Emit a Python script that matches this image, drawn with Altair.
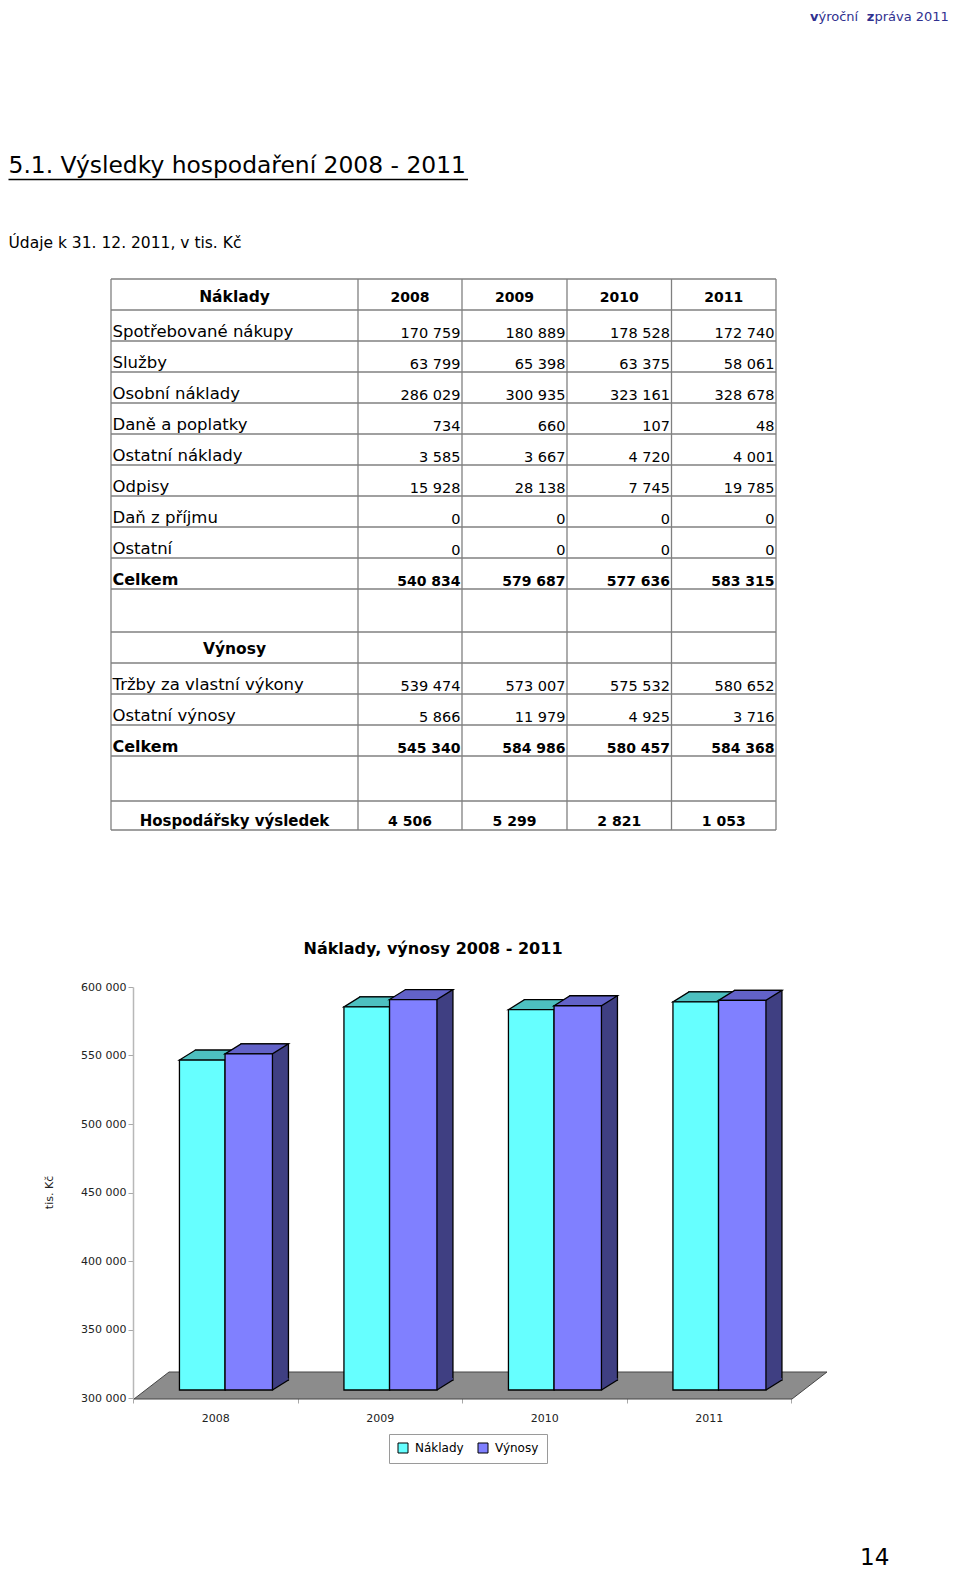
import altair as alt
import pandas as pd

# ---------------- data ----------------
years = ["2008", "2009", "2010", "2011"]
cost_labels = ["Spotřebované nákupy", "Služby", "Osobní náklady", "Daně a poplatky",
               "Ostatní náklady", "Odpisy", "Daň z příjmu", "Ostatní"]
cost_values = [
    [170759, 180889, 178528, 172740],
    [63799, 65398, 63375, 58061],
    [286029, 300935, 323161, 328678],
    [734, 660, 107, 48],
    [3585, 3667, 4720, 4001],
    [15928, 28138, 7745, 19785],
    [0, 0, 0, 0],
    [0, 0, 0, 0],
]
cost_total = [540834, 579687, 577636, 583315]
revenue_labels = ["Tržby za vlastní výkony", "Ostatní výnosy"]
revenue_values = [
    [539474, 573007, 575532, 580652],
    [5866, 11979, 4925, 3716],
]
revenue_total = [545340, 584986, 580457, 584368]
result_values = [4506, 5299, 2821, 1053]
series_names = ["Náklady", "Výnosy"]
y_ticks = [300000, 350000, 400000, 450000, 500000, 550000, 600000]

header_pieces = ["v", "ýroční", "z", "práva 2011"]
page_title = "5.1. Výsledky hospodaření 2008 - 2011"
page_subtitle = "Údaje k 31. 12. 2011, v tis. Kč"
cost_header = "Náklady"
revenue_header = "Výnosy"
total_label = "Celkem"
result_label = "Hospodářsky výsledek"
chart_title = "Náklady, výnosy 2008 - 2011"
y_axis_title = "tis. Kč"
page_number = "14"

# ---------------- layout / style ----------------
FONT = "DejaVu Sans"
OX, OY = 133, 987          # page position of the bar plot area
PW, PH = 658, 411
SVG_W, SVG_H = 944, 1566
Y_MIN, Y_MAX = 300000, 600000

TABLE_TOP = 279
ROW_H = [31] * 10 + [43, 31, 31, 31, 31, 45, 29]
COL_EDGES = [111, 358, 462, 567, 671.5, 776]
GRID_COLOR = "#808080"
HEADER_COLOR = "#30308f"

GEOM = {
    "Náklady": dict(x0=-35.8, w=45.6, front="#66FFFF", top="#4DC0C0", side="#2E8C8C"),
    "Výnosy": dict(x0=9.8, w=47.4, front="#8080FF", top="#6262C8", side="#3F3F82"),
}
DX, DY = 16, -10     # bar depth
LIFT = -8            # bars stand in the middle of the floor
FLOOR_DX, FLOOR_DY = 35, -27
EDGE_W = 1.3


def fmt(v):
    return f"{v:,}".replace(",", " ")


def PX(field):
    return alt.X(f"{field}:Q", scale=alt.Scale(domain=[OX, OX + PW], zero=False, nice=False), axis=None)


def PY(field):
    return alt.Y(f"{field}:Q", scale=alt.Scale(domain=[OY, OY + PH], reverse=True, zero=False, nice=False), axis=None)


def XB(axis=None):
    return alt.X("year:N", scale=alt.Scale(type="band", domain=years, paddingInner=0, paddingOuter=0), axis=axis)


def YV(field, axis=None):
    return alt.Y(f"{field}:Q", scale=alt.Scale(domain=[Y_MIN, Y_MAX], zero=False, nice=False), axis=axis)


STYLES = {
    "hdr_b": dict(align="left", fontWeight="bold", fontSize=13, color=HEADER_COLOR),
    "hdr_n": dict(align="left", fontWeight="normal", fontSize=13, color=HEADER_COLOR),
    "title": dict(align="left", fontWeight="normal", fontSize=23.4, color="black"),
    "subtitle": dict(align="left", fontWeight="normal", fontSize=15.5, color="black"),
    "lab": dict(align="left", fontWeight="normal", fontSize=16.5, color="black"),
    "lab_b": dict(align="left", fontWeight="bold", fontSize=16, color="black"),
    "lab_c": dict(align="center", fontWeight="bold", fontSize=15.5, color="black"),
    "res_lab": dict(align="center", fontWeight="bold", fontSize=15, color="black"),
    "num": dict(align="right", fontWeight="normal", fontSize=14.5, color="black"),
    "num_b": dict(align="right", fontWeight="bold", fontSize=14, color="black"),
    "num_c": dict(align="center", fontWeight="bold", fontSize=14, color="black"),
    "ctitle": dict(align="center", fontWeight="bold", fontSize=16, color="black"),
    "pageno": dict(align="left", fontWeight="normal", fontSize=23, color="black"),
}

records = []


def add(x, y, text, style):
    records.append(dict(x=x, y=y, text=text, style=style))


# page header
hdr_x = [810, 818.5, 866.8, 874.4]
for piece, x, st in zip(header_pieces, hdr_x, ["hdr_b", "hdr_n", "hdr_b", "hdr_n"]):
    add(x, 21, piece, st)
add(8.5, 173, page_title, "title")
add(8.5, 248, page_subtitle, "subtitle")
add(433, 954, chart_title, "ctitle")
add(860, 1565, page_number, "pageno")

# table rows
rows = [("header", cost_header, years)]
rows += [("item", l, v) for l, v in zip(cost_labels, cost_values)]
rows.append(("total", total_label, cost_total))
rows.append(("blank", "", None))
rows.append(("section", revenue_header, None))
rows += [("item", l, v) for l, v in zip(revenue_labels, revenue_values)]
rows.append(("total", total_label, revenue_total))
rows.append(("blank", "", None))
rows.append(("result", result_label, result_values))

edges = [TABLE_TOP]
for h in ROW_H:
    edges.append(edges[-1] + h)

col_centers = [(COL_EDGES[i] + COL_EDGES[i + 1]) / 2 for i in range(5)]
for (kind, label, vals), bottom in zip(rows, edges[1:]):
    if kind == "header":
        add(col_centers[0], bottom - 8, label, "lab_c")
        for j, v in enumerate(vals):
            add(col_centers[j + 1], bottom - 8, v, "num_c")
    elif kind == "item":
        add(COL_EDGES[0] + 1.5, bottom - 4.5, label, "lab")
        for j, v in enumerate(vals):
            add(COL_EDGES[j + 2] - 1.5, bottom - 3.5, fmt(v), "num")
    elif kind == "total":
        add(COL_EDGES[0] + 1.5, bottom - 4.5, label, "lab_b")
        for j, v in enumerate(vals):
            add(COL_EDGES[j + 2] - 1.5, bottom - 3.5, fmt(v), "num_b")
    elif kind == "section":
        add(col_centers[0], bottom - 9, label, "lab_c")
    elif kind == "result":
        add(col_centers[0], bottom - 4, label, "res_lab")
        for j, v in enumerate(vals):
            add(col_centers[j + 1], bottom - 4, fmt(v), "num_c")

text_df = pd.DataFrame(records)

layers = []

# table grid
hlines = pd.DataFrame({"x": COL_EDGES[0], "x2": COL_EDGES[-1], "y": edges})
vlines = pd.DataFrame({"x": COL_EDGES, "y": edges[0], "y2": edges[-1]})
layers.append(alt.Chart(hlines).mark_rule(color=GRID_COLOR, strokeWidth=1.3).encode(
    x=PX("x"), x2=alt.X2("x2"), y=PY("y")))
layers.append(alt.Chart(vlines).mark_rule(color=GRID_COLOR, strokeWidth=1.3).encode(
    x=PX("x"), y=PY("y"), y2=alt.Y2("y2")))
underline = pd.DataFrame({"x": [8.5], "x2": [468], "y": [179.5]})
layers.append(alt.Chart(underline).mark_rule(color="black", strokeWidth=1.3).encode(
    x=PX("x"), x2=alt.X2("x2"), y=PY("y")))

for st, spec in STYLES.items():
    sub = text_df[text_df["style"] == st]
    if len(sub) == 0:
        continue
    layers.append(alt.Chart(sub).mark_text(baseline="alphabetic", font=FONT, **spec).encode(
        x=PX("x"), y=PY("y"), text="text:N"))

# ---------------- 3D bar chart ----------------
bars = pd.DataFrame({
    "year": years * 2,
    "series": [s for s in series_names for _ in years],
    "value": cost_total + revenue_total,
    "base": Y_MIN,
})

floor_df = pd.DataFrame({"base": [Y_MIN]})
floor_path = f"M1,0 L{PW + 1},0 L{PW + 1 + FLOOR_DX},{FLOOR_DY} L{1 + FLOOR_DX},{FLOOR_DY} Z"
layers.append(alt.Chart(floor_df).mark_point(
    shape=floor_path, size=4, filled=True, fill="#8c8c8c", stroke="#454545",
    strokeWidth=1, opacity=1, yOffset=1).encode(x=alt.value(0), y=YV("base")))

color_scale = alt.Scale(domain=series_names, range=[GEOM[s]["front"] for s in series_names])
legend = alt.Legend(orient="none", legendX=256, legendY=447, direction="horizontal", title=None,
                    symbolType="square", symbolSize=100, symbolStrokeColor="black",
                    symbolStrokeWidth=1, labelFont=FONT, labelFontSize=12, labelColor="black",
                    labelOffset=6, columnPadding=12, padding=8, strokeColor="#9a9a9a",
                    fillColor="white")

y_axis = alt.Axis(orient="left", values=y_ticks, labelExpr="replace(format(datum.value, ','), ',', ' ')",
                  labelFont=FONT, labelFontSize=11, labelColor="#222", labelPadding=2,
                  tickSize=5, tickColor="#a8a8a8", domainColor="#b8b8b8", domainWidth=1.5,
                  grid=False, title=y_axis_title, titleFont=FONT, titleFontSize=11,
                  titleFontWeight="normal", titleColor="#222", titleAngle=270,
                  titleX=-84, titleY=205, titleAlign="center", titleBaseline="middle")
x_axis = alt.Axis(orient="bottom", labelFont=FONT, labelFontSize=11, labelColor="#222",
                  labelPadding=9, labelAngle=0, tickBand="extent", tickSize=5, tickColor="#a8a8a8",
                  domainColor="#a8a8a8", grid=False, title=None)

for s in series_names:
    g = GEOM[s]
    d = bars[bars["series"] == s]
    # back face (shows as the side face)
    layers.append(alt.Chart(d).mark_bar(
        width=g["w"], xOffset=g["x0"] + g["w"] / 2 + DX, yOffset=LIFT + DY, y2Offset=LIFT + DY,
        fill=g["side"], stroke="black", strokeWidth=EDGE_W, opacity=1).encode(
        x=XB(), y=YV("value"), y2=alt.Y2("base")))
    # lower part of the side face
    layers.append(alt.Chart(d).mark_point(
        shape=f"M0,0 L{DX},{DY} L{DX},{DY - 2} L0,{DY - 2} Z", size=4, filled=True,
        fill=g["side"], strokeWidth=0, opacity=1, xOffset=g["x0"] + g["w"], yOffset=LIFT).encode(
        x=XB(), y=YV("base")))
    layers.append(alt.Chart(d).mark_point(
        shape=f"M0,0 L{DX},{DY}", size=4, filled=False, stroke="black", strokeWidth=EDGE_W,
        opacity=1, xOffset=g["x0"] + g["w"], yOffset=LIFT).encode(x=XB(), y=YV("base")))
    # top face
    w = g["w"]
    layers.append(alt.Chart(d).mark_point(
        shape=f"M0,0 L{w},0 L{w + DX},{DY} L{DX},{DY} Z", size=4, filled=True,
        fill=g["top"], stroke="black", strokeWidth=EDGE_W, opacity=1,
        xOffset=g["x0"], yOffset=LIFT).encode(x=XB(), y=YV("value")))
    # front face
    first = s == series_names[0]
    layers.append(alt.Chart(d).mark_bar(
        width=g["w"], xOffset=g["x0"] + g["w"] / 2, yOffset=LIFT, y2Offset=LIFT,
        stroke="black", strokeWidth=EDGE_W, opacity=1).encode(
        x=XB(x_axis if first else None),
        y=YV("value", y_axis if first else None),
        y2=alt.Y2("base"),
        color=alt.Color("series:N", scale=color_scale, legend=legend)))

chart = alt.layer(*layers).resolve_scale(
    x="independent", y="independent", color="shared"
).properties(
    width=PW, height=PH,
    autosize=alt.AutoSizeParams(type="none"),
    padding={"left": OX - 8, "top": OY - 8, "right": SVG_W - (OX - 8) - PW,
             "bottom": SVG_H - (OY - 8) - PH},
    background="white",
).configure_view(strokeWidth=0)

chart.save("out.html", embed_options={"renderer": "svg", "actions": False})
